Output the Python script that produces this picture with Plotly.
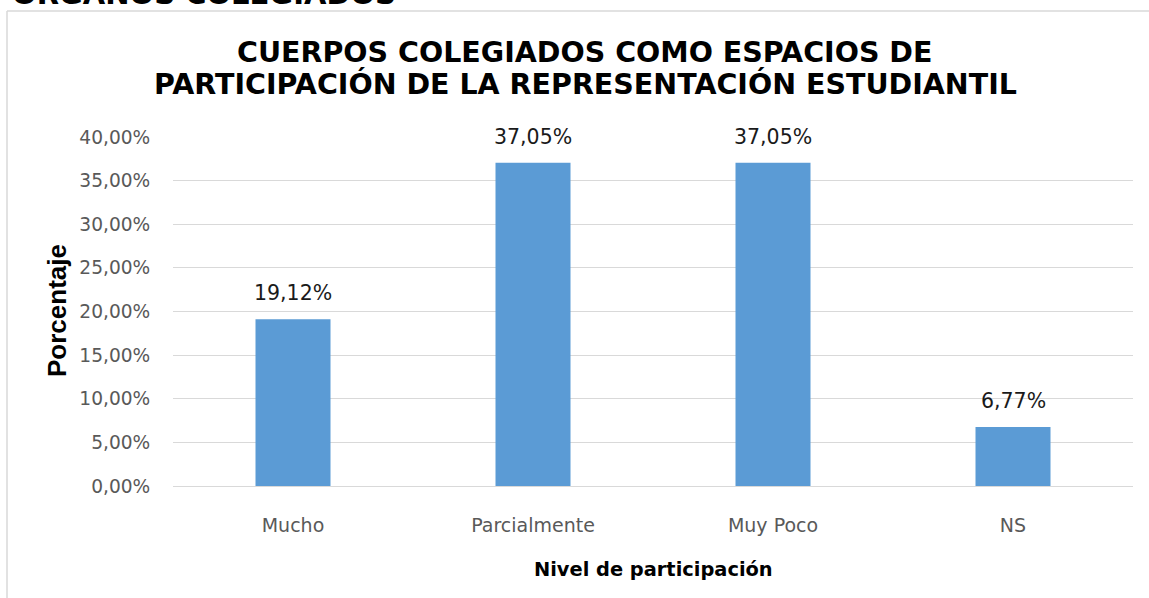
import plotly.graph_objects as go

categories = ["Mucho", "Parcialmente", "Muy Poco", "NS"]
values = [0.1912, 0.3705, 0.3705, 0.0677]
value_labels = ["19,12%", "37,05%", "37,05%", "6,77%"]
tick_vals = [0, 0.05, 0.10, 0.15, 0.20, 0.25, 0.30, 0.35, 0.40]
tick_text = ["0,00%", "5,00%", "10,00%", "15,00%", "20,00%", "25,00%", "30,00%", "35,00%", "40,00%"]

title_line1 = "CUERPOS COLEGIADOS COMO ESPACIOS DE"
title_line2 = "PARTICIPACIÓN DE LA REPRESENTACIÓN ESTUDIANTIL"
page_heading = "ÓRGANOS COLEGIADOS"
x_title = "Nivel de participación"
y_title = "Porcentaje"

W, H = 1149, 598
L, R, T, B = 173, 16, 137, 112
PW, PH = W - L - R, H - T - B

def px(x):
    return (x - L) / PW

def py(y):
    return (H - B - y) / PH

body_font = "DejaVu Sans, sans-serif"
wide_bold = "DejaVu Sans, sans-serif"
arial = "Liberation Sans, Arial, sans-serif"

fig = go.Figure()
fig.add_trace(go.Bar(
    x=categories, y=values,
    marker=dict(color="#5b9bd5", line=dict(width=0)),
    width=0.3125,
    hoverinfo="skip",
))

annotations = []
for c, v, t in zip(categories, values, value_labels):
    annotations.append(dict(
        x=c, y=v, xref="x", yref="y", text=t, showarrow=False,
        yanchor="bottom", yshift=12,
        font=dict(family=body_font, size=20.5, color="#1a1a1a"),
    ))

annotations += [
    dict(x=px(585), y=py(52), xref="paper", yref="paper", text=title_line1,
         showarrow=False, xanchor="center", yanchor="middle",
         font=dict(family=wide_bold, size=28.5, color="#000000", weight="bold")),
    dict(x=px(585), y=py(84), xref="paper", yref="paper", text=title_line2,
         showarrow=False, xanchor="center", yanchor="middle",
         font=dict(family=wide_bold, size=28.5, color="#000000", weight="bold")),
    dict(x=px(10), y=py(-6), xref="paper", yref="paper", text=page_heading,
         showarrow=False, xanchor="left", yanchor="middle",
         font=dict(family=wide_bold, size=29, color="#000000", weight="bold")),
    dict(x=px(653), y=py(569), xref="paper", yref="paper", text="<b>" + x_title + "</b>",
         showarrow=False, xanchor="center", yanchor="middle",
         font=dict(family=body_font, size=19.4, color="#000000")),
    dict(x=px(57), y=py(311), xref="paper", yref="paper", text="<b>" + y_title + "</b>",
         showarrow=False, xanchor="center", yanchor="middle", textangle=-90,
         font=dict(family=arial, size=26, color="#000000")),
]

shapes = [
    dict(type="line", xref="paper", yref="paper", x0=px(7), x1=px(1200), y0=py(11), y1=py(11),
         line=dict(color="#d9d9d9", width=1.5)),
    dict(type="line", xref="paper", yref="paper", x0=px(7), x1=px(7), y0=py(11), y1=py(640),
         line=dict(color="#d9d9d9", width=1.5)),
]

fig.update_layout(
    width=W, height=H,
    margin=dict(l=L, r=R, t=T, b=B, pad=0),
    paper_bgcolor="white", plot_bgcolor="white",
    showlegend=False,
    annotations=annotations,
    shapes=shapes,
    bargap=0.6875,
    xaxis=dict(
        showgrid=False, showline=False, zeroline=False,
        ticks="outside", ticklen=22, tickcolor="rgba(0,0,0,0)",
        tickfont=dict(family=body_font, size=19, color="#595959"),
        fixedrange=True,
    ),
    yaxis=dict(
        range=[0, 0.40], tickvals=tick_vals, ticktext=tick_text,
        showgrid=True, gridcolor="#d9d9d9", gridwidth=1,
        zeroline=True, zerolinecolor="#d9d9d9", zerolinewidth=1,
        showline=False,
        ticks="outside", ticklen=18, tickcolor="rgba(0,0,0,0)",
        tickfont=dict(family=body_font, size=18.6, color="#595959"),
        fixedrange=True,
    ),
)

fig.write_html("out.html", config={"displayModeBar": False},
               post_script="document.body.style.margin='0px';document.body.style.overflow='hidden';")
